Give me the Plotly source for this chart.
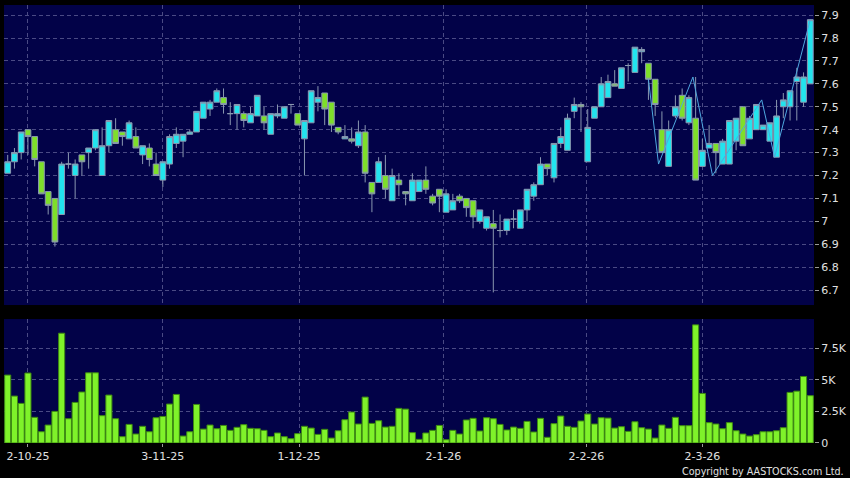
import plotly.graph_objects as go

# ---------------- data ----------------
opens = [7.21, 7.26, 7.30, 7.40, 7.37, 7.26, 7.13, 7.10, 7.03, 7.25,
         7.20, 7.29, 7.30, 7.32, 7.20, 7.33, 7.40, 7.39, 7.36, 7.37,
         7.29, 7.32, 7.25, 7.18, 7.25, 7.34, 7.35, 7.38, 7.39, 7.45,
         7.49, 7.52, 7.54, 7.47, 7.47, 7.47, 7.43, 7.46, 7.46, 7.38,
         7.46, 7.45, 7.51, 7.47, 7.36, 7.43, 7.52, 7.56, 7.52, 7.41,
         7.36, 7.36, 7.33, 7.39, 7.17, 7.17, 7.20, 7.09, 7.18, 7.13,
         7.09, 7.13, 7.18, 7.11, 7.14, 7.04, 7.05, 7.11, 7.10, 7.09,
         7.00, 6.97, 6.99, 6.96, 6.96, 7.01, 6.97, 7.05, 7.11, 7.16,
         7.25, 7.19, 7.34, 7.31, 7.48, 7.51, 7.26, 7.45, 7.50, 7.54,
         7.60, 7.58, 7.68, 7.65, 7.74, 7.69, 7.62, 7.40, 7.24, 7.46,
         7.55, 7.43, 7.45, 7.24, 7.32, 7.34, 7.25, 7.25, 7.35, 7.50,
         7.36, 7.40, 7.40, 7.35, 7.28, 7.50, 7.50, 7.61, 7.52, 7.60]
highs = [7.29, 7.32, 7.39, 7.40, 7.37, 7.26, 7.13, 7.10, 7.26, 7.30,
         7.27, 7.29, 7.32, 7.40, 7.41, 7.44, 7.45, 7.39, 7.44, 7.41,
         7.33, 7.34, 7.30, 7.26, 7.38, 7.41, 7.38, 7.40, 7.48, 7.52,
         7.53, 7.58, 7.58, 7.52, 7.51, 7.48, 7.50, 7.55, 7.50, 7.47,
         7.51, 7.50, 7.51, 7.47, 7.44, 7.57, 7.59, 7.56, 7.52, 7.41,
         7.42, 7.41, 7.44, 7.42, 7.17, 7.28, 7.29, 7.23, 7.21, 7.13,
         7.21, 7.18, 7.24, 7.12, 7.14, 7.14, 7.12, 7.12, 7.10, 7.09,
         7.05, 7.02, 7.05, 7.03, 7.01, 7.05, 7.05, 7.14, 7.17, 7.28,
         7.25, 7.34, 7.41, 7.47, 7.54, 7.52, 7.49, 7.50, 7.63, 7.64,
         7.66, 7.67, 7.69, 7.76, 7.76, 7.69, 7.62, 7.48, 7.44, 7.55,
         7.58, 7.55, 7.63, 7.36, 7.42, 7.34, 7.36, 7.44, 7.45, 7.50,
         7.46, 7.51, 7.42, 7.43, 7.53, 7.56, 7.57, 7.67, 7.65, 7.88]
lows = [7.21, 7.23, 7.27, 7.29, 7.24, 7.12, 7.03, 6.89, 7.03, 7.23,
        7.10, 7.20, 7.23, 7.31, 7.20, 7.30, 7.34, 7.33, 7.36, 7.32,
        7.25, 7.24, 7.20, 7.15, 7.23, 7.32, 7.28, 7.38, 7.39, 7.45,
        7.46, 7.52, 7.47, 7.42, 7.40, 7.41, 7.43, 7.46, 7.40, 7.38,
        7.45, 7.45, 7.47, 7.42, 7.20, 7.43, 7.48, 7.42, 7.39, 7.38,
        7.36, 7.34, 7.32, 7.17, 7.04, 7.17, 7.10, 7.09, 7.11, 7.07,
        7.09, 7.13, 7.12, 7.07, 7.04, 7.04, 7.05, 7.08, 7.02, 6.97,
        6.99, 6.96, 6.69, 6.93, 6.94, 6.97, 6.97, 7.00, 7.09, 7.16,
        7.20, 7.17, 7.32, 7.31, 7.45, 7.39, 7.26, 7.45, 7.50, 7.54,
        7.59, 7.58, 7.61, 7.65, 7.69, 7.53, 7.46, 7.30, 7.24, 7.45,
        7.44, 7.42, 7.18, 7.24, 7.32, 7.21, 7.25, 7.25, 7.31, 7.33,
        7.36, 7.40, 7.40, 7.35, 7.28, 7.45, 7.44, 7.44, 7.50, 7.60]
closes = [7.26, 7.30, 7.39, 7.37, 7.27, 7.12, 7.07, 6.91, 7.25, 7.25,
          7.25, 7.26, 7.32, 7.40, 7.33, 7.44, 7.34, 7.37, 7.43, 7.32,
          7.33, 7.27, 7.20, 7.26, 7.37, 7.38, 7.38, 7.39, 7.48, 7.52,
          7.52, 7.57, 7.51, 7.47, 7.51, 7.44, 7.47, 7.55, 7.43, 7.47,
          7.47, 7.50, 7.51, 7.42, 7.44, 7.57, 7.54, 7.49, 7.42, 7.39,
          7.37, 7.35, 7.39, 7.21, 7.12, 7.26, 7.14, 7.20, 7.16, 7.12,
          7.18, 7.18, 7.14, 7.08, 7.11, 7.12, 7.09, 7.09, 7.06, 7.02,
          7.05, 7.02, 6.97, 6.96, 7.01, 7.01, 7.05, 7.14, 7.16, 7.25,
          7.23, 7.34, 7.37, 7.45, 7.51, 7.50, 7.41, 7.50, 7.60, 7.61,
          7.59, 7.67, 7.68, 7.76, 7.75, 7.62, 7.51, 7.30, 7.40, 7.50,
          7.45, 7.54, 7.18, 7.31, 7.34, 7.30, 7.35, 7.44, 7.45, 7.33,
          7.45, 7.51, 7.42, 7.43, 7.46, 7.53, 7.57, 7.63, 7.63, 7.88]
volumes = [5370, 3710, 3130, 5530, 2030, 890, 1420, 2500, 8680, 1920,
           3210, 4030, 5550, 5550, 2160, 3790, 1920, 500, 1470, 710,
           1320, 890, 2000, 2100, 3080, 3840, 550, 890, 3050, 1100,
           1420, 1130, 1390, 1000, 1240, 1450, 1160, 1130, 1000, 500,
           790, 500, 340, 740, 1320, 1180, 680, 1080, 390, 970,
           1840, 2450, 1500, 3630, 1550, 1760, 1260, 1320, 2740, 2680,
           820, 290, 790, 1000, 1390, 260, 1000, 710, 1820, 1950,
           950, 2000, 1920, 1470, 1030, 1260, 1160, 1710, 870, 1950,
           450, 1530, 2130, 1320, 1240, 1740, 2290, 1500, 2000, 1970,
           1180, 1290, 920, 1680, 1210, 1100, 390, 1420, 1160, 2030,
           1370, 1370, 9340, 3920, 1610, 1500, 1130, 1610, 970, 710,
           550, 660, 890, 890, 970, 1210, 4000, 4100, 5260, 3740]
day_idx = list(range(len(opens)))

# zig-zag line drawn over the last part of the price panel
zz_idx = [95, 96.5, 101.6, 104.5, 111.8, 113.7, 119]
zz_val = [7.62, 7.25, 7.63, 7.20, 7.53, 7.28, 7.88]

# date tick labels (position in trading-day index)
tick_idx = [3, 23, 43.2, 64.6, 85.8, 103]
tick_txt = ["2-10-25", "3-11-25", "1-12-25", "2-1-26", "2-2-26", "2-3-26"]

price_ticks = [6.7, 6.8, 6.9, 7.0, 7.1, 7.2, 7.3, 7.4, 7.5, 7.6, 7.7, 7.8, 7.9]
vol_ticks = [0, 2500, 5000, 7500]
vol_tick_txt = ["0", "2.5K", "5K", "7.5K"]

# ---------------- style ----------------
NAVY = "#020248"
CYAN = "#22e4ee"
GREEN = "#7edf2a"
EDGE = "#8a98b0"
GRID = "#4a4a84"
TXT = "#e0e0e0"
FONT = "DejaVu Sans"

xr = [-0.55, 119.55]

fig = go.Figure()
fig.add_trace(go.Candlestick(
    x=day_idx, open=opens, high=highs, low=lows, close=closes,
    xaxis="x", yaxis="y",
    increasing=dict(fillcolor=CYAN, line=dict(color=EDGE, width=1)),
    decreasing=dict(fillcolor=GREEN, line=dict(color=EDGE, width=1)),
    whiskerwidth=0, showlegend=False, hoverinfo="skip"))
fig.add_trace(go.Scatter(
    x=zz_idx, y=zz_val, mode="lines", xaxis="x", yaxis="y",
    line=dict(color="#4fa8e0", width=1), showlegend=False, hoverinfo="skip"))
fig.add_trace(go.Bar(
    x=day_idx, y=volumes, xaxis="x2", yaxis="y2",
    marker=dict(color="#7ff22a", line=dict(color="#3e8a12", width=1)),
    showlegend=False, hoverinfo="skip"))

axis_common = dict(showline=False, zeroline=False, gridcolor=GRID, griddash="4px,3px",
                   gridwidth=1, tickfont=dict(family=FONT, size=11, color=TXT))

fig.update_layout(
    width=850, height=478,
    margin=dict(l=4, r=36, t=5, b=35),
    paper_bgcolor="black", plot_bgcolor=NAVY,
    boxgap=0.15, boxgroupgap=0, bargap=0.1,
    hovermode=False,
    xaxis=dict(domain=[0, 1], anchor="y", range=xr, tickvals=tick_idx,
               showticklabels=False, showgrid=True, ticks="",
               rangeslider=dict(visible=False), **axis_common),
    yaxis=dict(domain=[0.315, 1], anchor="x", side="right", range=[6.635, 7.944],
               tickvals=price_ticks, ticktext=[f"{v:g}" for v in price_ticks],
               showgrid=True, ticks="outside", ticklen=4, tickcolor="#9a9a9a",
               **axis_common),
    xaxis2=dict(domain=[0, 1], anchor="y2", range=xr, tickvals=tick_idx, ticktext=tick_txt,
                showgrid=True, ticks="outside", ticklen=3, tickcolor="#9a9a9a",
                **axis_common),
    yaxis2=dict(domain=[0, 0.283], anchor="x2", side="right", range=[0, 9800],
                tickvals=vol_ticks, ticktext=vol_tick_txt,
                showgrid=True, ticks="outside", ticklen=4, tickcolor="#9a9a9a",
                **axis_common),
    annotations=[dict(text="Copyright by AASTOCKS.com Ltd.", xref="paper", yref="paper",
                      x=1.039, y=-0.064, xanchor="right", yanchor="middle", showarrow=False,
                      font=dict(family=FONT, size=9.6, color=TXT))],
)

fig.write_html("out.html", config={"displayModeBar": False},
               post_script="document.body.style.margin='0px';")
